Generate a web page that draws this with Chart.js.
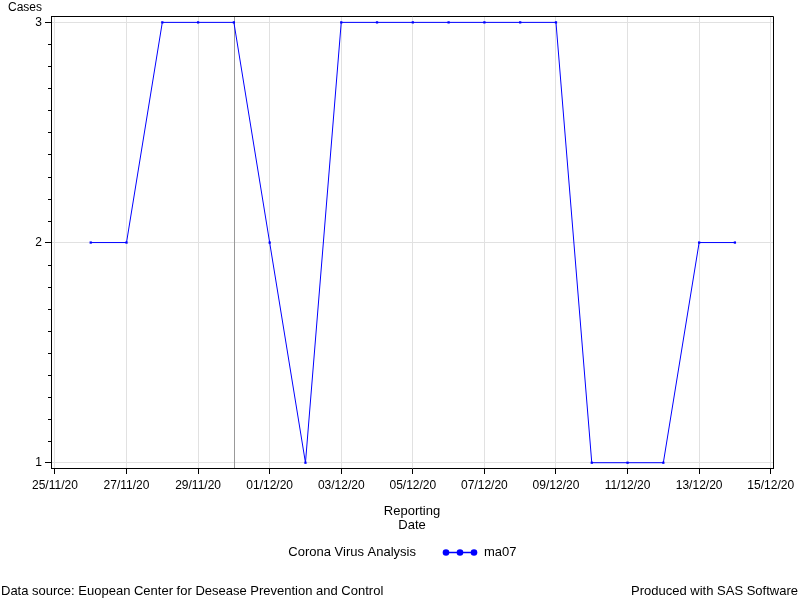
<!DOCTYPE html>
<html><head><meta charset="utf-8">
<script src="https://cdn.jsdelivr.net/npm/chart.js@4"></script>
<style>html,body{margin:0;padding:0;background:#fff}#wrap{width:800px;height:600px;position:relative}</style>
</head><body><div id="wrap"><canvas id="c" width="800" height="600"></canvas></div>
<script>
const dates = ['2020-11-26','2020-11-27','2020-11-28','2020-11-29','2020-11-30','2020-12-01','2020-12-02','2020-12-03','2020-12-04','2020-12-05','2020-12-06','2020-12-07','2020-12-08','2020-12-09','2020-12-10','2020-12-11','2020-12-12','2020-12-13','2020-12-14'];
const ma07 = [2,2,3,3,3,2,1,3,3,3,3,3,3,3,1,1,1,2,2];
const yTickValues = [1,2,3];
const xStart = '2020-11-25';
const xEnd = '2020-12-15';
const refDate = '2020-11-30';
const yTitle = 'Cases';
const xTitle = ['Reporting','Date'];
const legendTitle = 'Corona Virus Analysis';
const seriesName = 'ma07';
const footLeft = 'Data source: Euopean Center for Desease Prevention and Control';
const footRight = 'Produced with SAS Software';

const DAY = 86400000;
const t0 = Date.parse(xStart);
const off = d => (Date.parse(d) - t0) / DAY;
const fmt = v => {
  const d = new Date(t0 + Math.round(v) * DAY);
  const p = n => String(n).padStart(2,'0');
  return p(d.getUTCDate()) + '/' + p(d.getUTCMonth()+1) + '/' + p(d.getUTCFullYear() % 100);
};
const FONT = "'Liberation Sans', Arial, sans-serif";

const points = dates.map((d,i) => ({x: off(d), y: ma07[i]}));

const extras = {
  id: 'extras',
  beforeDatasetsDraw(chart) {
    const {ctx, chartArea: a, scales: {x}} = chart;
    const px = Math.round(x.getPixelForValue(off(refDate))) + 0.5;
    ctx.save();
    ctx.strokeStyle = '#999999';
    ctx.lineWidth = 1;
    ctx.beginPath(); ctx.moveTo(px, a.top); ctx.lineTo(px, a.bottom); ctx.stroke();
    ctx.restore();
  },
  afterDraw(chart) {
    const {ctx, chartArea: a, scales: {y}} = chart;
    ctx.save();
    ctx.strokeStyle = '#000';
    ctx.lineWidth = 1;
    ctx.beginPath();
    ctx.moveTo(a.left, a.top + 0.5); ctx.lineTo(a.right + 0.5, a.top + 0.5);
    ctx.lineTo(a.right + 0.5, a.bottom);
    ctx.stroke();
    // minor y ticks
    ctx.beginPath();
    for (let k = yTickValues[0]*10; k <= yTickValues[yTickValues.length-1]*10; k++) {
      if (k % 10 === 0) continue;
      const py = Math.round(y.getPixelForValue(k/10)) + 0.5;
      ctx.moveTo(a.left - 3, py); ctx.lineTo(a.left, py);
    }
    ctx.stroke();
    ctx.fillStyle = '#000';
    ctx.font = '12px ' + FONT;
    ctx.textBaseline = 'middle';
    ctx.textAlign = 'left';
    ctx.fillText(yTitle, 8, 8);
    ctx.font = '13px ' + FONT;
    // legend
    const ly = 552.5;
    ctx.textAlign = 'right';
    ctx.fillText(legendTitle, 416, ly);
    ctx.strokeStyle = '#0000ff';
    ctx.fillStyle = '#0000ff';
    ctx.lineWidth = 1.5;
    ctx.beginPath(); ctx.moveTo(443, ly); ctx.lineTo(477, ly); ctx.stroke();
    [446, 460, 474].forEach(cx => { ctx.beginPath(); ctx.arc(cx, ly, 3.3, 0, Math.PI*2); ctx.fill(); });
    ctx.fillStyle = '#000';
    ctx.textAlign = 'left';
    ctx.fillText(seriesName, 484, ly);
    // footnotes
    const fy = 591.5;
    ctx.fillText(footLeft, 1, fy);
    ctx.textAlign = 'right';
    ctx.fillText(footRight, 798, fy);
    ctx.restore();
  }
};

new Chart(document.getElementById('c'), {
  type: 'line',
  data: {
    datasets: [{
      label: seriesName,
      data: points,
      borderColor: '#0000ff',
      backgroundColor: '#0000ff',
      borderWidth: 1,
      pointStyle: 'rect',
      pointRadius: 1.6,
      pointBorderWidth: 0,
      pointHoverRadius: 1.6,
      tension: 0,
      fill: false
    }]
  },
  options: {
    responsive: false,
    animation: false,
    events: [],
    layout: { padding: { left: 0, right: 27, top: 16, bottom: 62 } },
    plugins: { legend: { display: false }, tooltip: { enabled: false }, title: { display: false } },
    scales: {
      x: {
        type: 'linear',
        min: off(xStart) - 0.11,
        max: off(xEnd) + 0.064,
        afterFit: s => { s.height = 70; },
        border: { display: true, color: '#000', width: 1 },
        grid: { color: '#e1e1e1', lineWidth: 1, tickLength: 6, tickColor: '#000', drawOnChartArea: true },
        ticks: {
          stepSize: 2, includeBounds: false, autoSkip: false, maxRotation: 0,
          color: '#000', font: { family: FONT, size: 12 }, padding: 4,
          callback: v => fmt(v)
        },
        title: {
          display: true, text: xTitle, color: '#000',
          font: { family: FONT, size: 13, lineHeight: 14/13 },
          padding: { top: 0, bottom: 6 }
        }
      },
      y: {
        type: 'linear',
        min: yTickValues[0] - 0.024,
        max: yTickValues[yTickValues.length-1] + 0.029,
        afterFit: s => { s.width = 51; },
        border: { display: true, color: '#000', width: 1 },
        grid: { color: '#e1e1e1', lineWidth: 1, tickLength: 6, tickColor: '#000' },
        afterBuildTicks: s => { s.ticks = yTickValues.map(v => ({value: v})); },
        ticks: {
          includeBounds: false, color: '#000', font: { family: FONT, size: 12 }, padding: 3,
          callback: v => String(v)
        },
        title: { display: false }
      }
    }
  },
  plugins: [extras]
});
</script>
</body></html>
